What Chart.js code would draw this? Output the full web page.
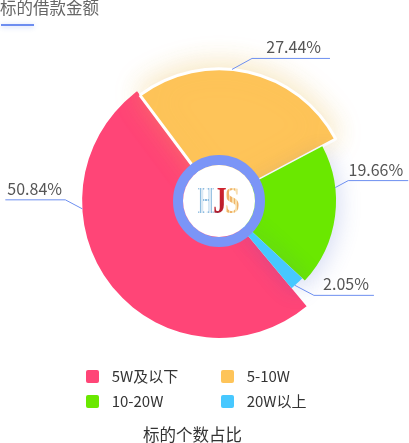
<!DOCTYPE html>
<html><head><meta charset="utf-8">
<script src="https://cdn.jsdelivr.net/npm/chart.js@4.4.1/dist/chart.umd.min.js"></script>
<style>
html,body{margin:0;padding:0;background:#fff;}
body{width:409px;height:443px;overflow:hidden;position:relative;font-family:"Noto Sans CJK SC",sans-serif;}
#c{position:absolute;left:0;top:0;}
.title{position:absolute;left:0;top:-3px;font-size:16.5px;line-height:20px;color:#666;white-space:nowrap;}
.bar{position:absolute;left:1px;top:24px;width:33px;height:2px;background:#6d8df0;box-shadow:0 1px 5px rgba(109,141,240,0.45);}
.item{position:absolute;height:16px;font-size:15px;line-height:16px;color:#333;white-space:nowrap;}
.sw{position:absolute;left:0;top:1px;width:13px;height:13px;border-radius:2px;}
.txt{position:absolute;left:25.7px;top:-1px;}
.caption{position:absolute;left:143px;top:424px;font-size:16.5px;line-height:20px;color:#333;white-space:nowrap;}
</style>
</head><body>
<canvas id="c" width="409" height="443"></canvas>
<div class="title">标的借款金额</div>
<div class="bar"></div>
<div id="legend"></div>
<div class="caption">标的个数占比</div>
<script>
// ---- data ----
const categories = ['5W及以下', '5-10W', '10-20W', '20W以上'];
const shares = [50.84, 27.44, 19.66, 2.05];

// ---- styles ----
const colors = ['#ff4577', '#fec459', '#6ae800', '#47c8ff'];
const radiusScale = [1.17, 1.13, 1, 0.97];
const shadows = [null,
  {color:'rgba(235,185,80,0.38)', blur:28, x:0, y:-3},
  {color:'rgba(60,90,200,0.20)', blur:22, x:4, y:4},
  {color:'rgba(60,90,200,0.22)', blur:22, x:4, y:4}];
const labelShiftDeg = [35, -7, -14, 1.5];
const labelLine1 = [[17, 9], [20, 11], [13, 7], [19, 10]];
const labelLine2 = [60, 78, 60, 60];
const lineColor = '#6d8ff0';

// legend (HTML, built from data)
const lg = document.getElementById('legend');
categories.forEach((name, i) => {
  const d = document.createElement('div');
  d.className = 'item';
  d.style.left = (86 + (i % 2) * 135) + 'px';
  d.style.top = (369 + Math.floor(i / 2) * 25) + 'px';
  d.innerHTML = '<span class="sw" style="background:' + colors[i] + '"></span><span class="txt"></span>';
  d.querySelector('.txt').textContent = name;
  lg.appendChild(d);
});

const emphasis = {
  id: 'emphasis',
  afterUpdate(chart) {
    const meta = chart.getDatasetMeta(0);
    meta.data.forEach((el, i) => {
      el.outerRadius = el.outerRadius * (radiusScale[i] || 1);
      const sh = shadows[i];
      el.draw = function (ctx) {
        ctx.save();
        if (sh) {
          ctx.shadowColor = sh.color; ctx.shadowBlur = sh.blur;
          ctx.shadowOffsetX = sh.x; ctx.shadowOffsetY = sh.y;
        }
        Chart.ArcElement.prototype.draw.call(this, ctx);
        ctx.restore();
      };
    });
  }
};

const pieLabels = {
  id: 'pieLabels',
  afterDatasetsDraw(chart) {
    const ctx = chart.ctx;
    const meta = chart.getDatasetMeta(0);
    const W = chart.width;
    meta.data.forEach((el, i) => {
      const a = (el.startAngle + el.endAngle) / 2 + (labelShiftDeg[i] || 0) * Math.PI / 180;
      const r = el.outerRadius;
      const ax = el.x + Math.cos(a) * r, ay = el.y + Math.sin(a) * r;
      const right = Math.cos(a) >= 0, up = Math.sin(a) < 0.1;
      const [l1x, l1y] = labelLine1[i];
      const ex = ax + (right ? l1x : -l1x), ey = ay + (up ? -l1y : l1y);
      let lx = ex + (right ? labelLine2[i] : -labelLine2[i]);
      lx = Math.max(0, Math.min(W, lx));
      ctx.save();
      ctx.strokeStyle = lineColor; ctx.lineWidth = 1;
      ctx.beginPath(); ctx.moveTo(ax, ay); ctx.lineTo(ex, ey); ctx.lineTo(lx, ey); ctx.stroke();
      ctx.fillStyle = '#555';
      ctx.font = '16px "Noto Sans CJK SC", sans-serif';
      ctx.textBaseline = 'alphabetic';
      const txt = shares[i].toFixed(2) + '%';
      if (right) { ctx.textAlign = 'right'; ctx.fillText(txt, lx - (i === 1 ? 9 : 5), ey - 5); }
      else { ctx.textAlign = 'left'; ctx.fillText(txt, lx + 2, ey - 5); }
      ctx.restore();
    });
  }
};

function stripes(ctx, x0, x1, c1, c2, step) {
  const g = ctx.createLinearGradient(x0, 0, x1, 0);
  const n = Math.round((x1 - x0) / step);
  for (let k = 0; k < n; k++) {
    const c = k % 2 ? c2 : c1;
    g.addColorStop(k / n, c); g.addColorStop((k + 1) / n - 0.0001, c);
  }
  return g;
}

const centerBadge = {
  id: 'centerBadge',
  afterDatasetsDraw(chart) {
    const ctx = chart.ctx;
    const el = chart.getDatasetMeta(0).data[0];
    const cx = el.x, cy = el.y;
    ctx.save();
    ctx.beginPath(); ctx.arc(cx, cy, 41, 0, Math.PI * 2);
    ctx.lineWidth = 10; ctx.strokeStyle = '#7b95f7'; ctx.stroke();
    ctx.beginPath(); ctx.arc(cx, cy, 36, 0, Math.PI * 2);
    ctx.fillStyle = '#fff'; ctx.fill();
    ctx.font = 'bold 38px "Liberation Serif", serif';
    ctx.textAlign = 'center'; ctx.textBaseline = 'alphabetic';
    // H
    ctx.save(); ctx.translate(cx - 13, cy + 12); ctx.scale(0.55, 1);
    ctx.fillStyle = stripes(ctx, -16, 16, '#8fbde0', '#dbe9f5', 2.5);
    ctx.fillText('H', 0, 0); ctx.restore();
    // S
    ctx.save(); ctx.translate(cx + 13, cy + 12); ctx.scale(0.72, 1);
    ctx.fillStyle = stripes(ctx, -12, 12, '#f0b46a', '#f8e0ae', 2.5);
    ctx.fillText('S', 0, 0); ctx.restore();
    // J
    ctx.save(); ctx.translate(cx + 1, cy + 12); ctx.scale(0.7, 1);
    const gj = ctx.createLinearGradient(0, -26, 0, 8);
    gj.addColorStop(0, '#d0242e'); gj.addColorStop(0.7, '#b81e2c'); gj.addColorStop(1, '#1d2f7a');
    ctx.fillStyle = gj;
    ctx.fillText('J', 0, 0); ctx.restore();
    ctx.restore();
  }
};

new Chart(document.getElementById('c'), {
  type: 'pie',
  data: {
    labels: categories,
    datasets: [{
      data: shares,
      backgroundColor: colors,
      borderColor: '#ffffff',
      borderWidth: [0, 3, 0, 0]
    }]
  },
  options: {
    responsive: false,
    animation: false,
    events: [],
    rotation: 140.2,
    radius: 117,
    layout: { padding: { left: 29, right: 0, top: 0, bottom: 41 } },
    plugins: { legend: { display: false }, tooltip: { enabled: false } }
  },
  plugins: [emphasis, pieLabels, centerBadge]
});
</script>
</body></html>
